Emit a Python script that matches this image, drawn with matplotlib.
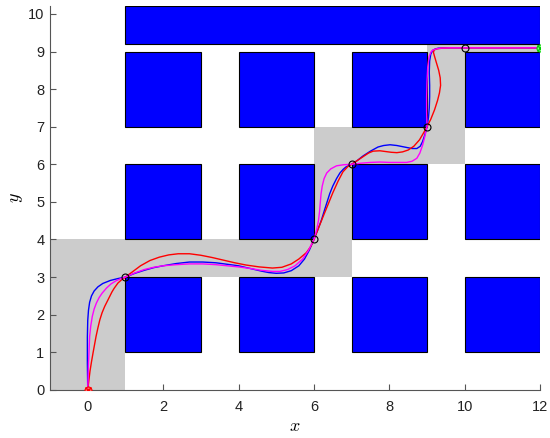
import matplotlib
matplotlib.use("Agg")
import matplotlib.pyplot as plt
from matplotlib.patches import Rectangle

plt.rcParams['font.family'] = ['Liberation Sans', 'DejaVu Sans']
plt.rcParams['mathtext.fontset'] = 'cm'

# obstacles (x0, y0, width, height)
obstacles = [(1, 1, 2, 2), (4, 1, 2, 2), (7, 1, 2, 2), (10, 1, 2, 2),
             (1, 4, 2, 2), (4, 4, 2, 2), (7, 4, 2, 2), (10, 4, 2, 2),
             (1, 7, 2, 2), (4, 7, 2, 2), (7, 7, 2, 2), (10, 7, 2, 2),
             (1, 9.2, 11, 1.0)]

# safe corridors (x0, y0, width, height)
corridors = [(-1, 0, 2, 4), (-1, 3, 8, 1), (6, 3, 1, 4),
             (6, 6, 4, 1), (9, 6, 1, 3.2), (9, 9, 3, 0.2)]

waypoints_x = [1, 6, 7, 9, 10]
waypoints_y = [3, 4, 6, 7, 9.1]
start = (0, 0)
goal = (12, 9.1)

blue_x = [0, -0.01, -0.01, 0.0, 0.02, 0.05, 0.1, 0.17, 0.27, 0.4, 0.6, 0.8, 1,
          1.25, 1.5, 1.75, 2.0, 2.35, 2.7, 3.05, 3.4, 3.7, 4.0, 4.3, 4.6, 4.8, 5.0,
          5.2, 5.4, 5.6, 5.75, 5.88, 6,
          6.1, 6.2, 6.28, 6.35, 6.42, 6.5, 6.6, 6.69, 6.78, 6.85, 6.93, 7,
          7.15, 7.3, 7.5, 7.7, 7.85, 8.02, 8.2, 8.4, 8.6, 8.73, 8.82, 8.88, 8.94, 9,
          9.04, 9.06, 9.07, 9.07, 9.06, 9.07, 9.1, 9.15, 9.22, 9.3, 9.5, 10, 12]
blue_y = [0, 0.7, 1.4, 1.85, 2.12, 2.33, 2.5, 2.63, 2.74, 2.83, 2.91, 2.96, 3,
          3.1, 3.18, 3.25, 3.3, 3.36, 3.4, 3.4, 3.38, 3.34, 3.3, 3.23, 3.16, 3.12, 3.1,
          3.11, 3.17, 3.3, 3.48, 3.72, 4,
          4.25, 4.52, 4.78, 5.0, 5.22, 5.42, 5.62, 5.77, 5.87, 5.93, 5.97, 6,
          6.1, 6.22, 6.35, 6.46, 6.5, 6.52, 6.5, 6.46, 6.42, 6.42, 6.48, 6.6, 6.78, 7,
          7.25, 7.5, 7.8, 8.1, 8.45, 8.75, 8.93, 9.03, 9.07, 9.09, 9.1, 9.1, 9.1]

red_x = [0, 0.03, 0.06, 0.1, 0.14, 0.18, 0.22, 0.27, 0.32, 0.38, 0.45, 0.52, 0.58, 0.64, 0.7, 0.8, 0.9, 1,
         1.2, 1.4, 1.65, 1.9, 2.15, 2.4, 2.7, 3.0, 3.3, 3.6, 3.9, 4.2, 4.55, 4.9,
         5.15, 5.4, 5.6, 5.8, 5.92, 6,
         6.12, 6.24, 6.37, 6.5, 6.64, 6.77, 6.9, 7,
         7.15, 7.3, 7.45, 7.57, 7.75, 7.9, 8.05, 8.2, 8.35, 8.5, 8.65, 8.8, 8.9, 9,
         9.1, 9.2, 9.28, 9.33, 9.36, 9.35, 9.31, 9.25, 9.2, 9.17, 9.19, 9.25, 9.4, 9.6, 10, 12]
red_y = [0, 0.25, 0.5, 0.75, 0.98, 1.2, 1.42, 1.65, 1.86, 2.05, 2.22, 2.36, 2.48, 2.6, 2.7, 2.84, 2.93, 3,
         3.15, 3.3, 3.44, 3.53, 3.59, 3.62, 3.62, 3.58, 3.52, 3.45, 3.38, 3.32, 3.27, 3.24,
         3.26, 3.35, 3.48, 3.65, 3.82, 4,
         4.3, 4.6, 4.92, 5.24, 5.55, 5.8, 5.94, 6,
         6.1, 6.2, 6.3, 6.35, 6.36, 6.34, 6.32, 6.31, 6.33, 6.38, 6.48, 6.65, 6.82, 7,
         7.2, 7.45, 7.7, 7.9, 8.1, 8.3, 8.5, 8.7, 8.87, 8.98, 9.04, 9.07, 9.09, 9.1, 9.1, 9.1]

magenta_x = [0, 0.01, 0.02, 0.035, 0.05, 0.08, 0.12, 0.17, 0.23, 0.3, 0.38, 0.5, 0.62, 0.75, 0.88, 1,
             1.25, 1.5, 1.75, 2.0, 2.35, 2.7, 3.05, 3.4, 3.7, 4.0, 4.3, 4.6, 4.9,
             5.1, 5.3, 5.5, 5.7, 5.85, 6,
             6.07, 6.12, 6.15, 6.17, 6.19, 6.22, 6.27, 6.34, 6.45, 6.6, 6.8, 7,
             7.25, 7.5, 7.75, 8.0, 8.25, 8.46, 8.6, 8.73, 8.81, 8.88, 8.94, 9,
             8.99, 8.99, 9.0, 9.02, 9.05, 9.1, 9.15, 9.25, 9.35, 9.6, 10, 12]
magenta_y = [0, 0.35, 0.7, 1.05, 1.42, 1.7, 1.95, 2.15, 2.31, 2.45, 2.57, 2.71, 2.82, 2.9, 2.96, 3,
             3.11, 3.2, 3.26, 3.3, 3.33, 3.35, 3.35, 3.33, 3.3, 3.27, 3.23, 3.18, 3.15,
             3.15, 3.2, 3.3, 3.48, 3.7, 4,
             4.25, 4.5, 4.75, 5.0, 5.22, 5.42, 5.62, 5.77, 5.88, 5.96, 5.99, 6,
             6.03, 6.05, 6.06, 6.05, 6.05, 6.05, 6.08, 6.16, 6.3, 6.5, 6.73, 7,
             7.4, 7.8, 8.2, 8.6, 8.85, 8.98, 9.04, 9.07, 9.09, 9.1, 9.1, 9.1]

fig = plt.figure(figsize=(5.5, 4.38), dpi=100)
ax = fig.add_axes([0.091, 0.11, 0.891, 0.877])

for (x0, y0, w, h) in corridors:
    ax.add_patch(Rectangle((x0, y0), w, h, facecolor=(0.8, 0.8, 0.8),
                           edgecolor='none', zorder=1))
for (x0, y0, w, h) in obstacles:
    ax.add_patch(Rectangle((x0, y0), w, h, facecolor=(0, 0, 1),
                           edgecolor='black', linewidth=0.8, zorder=2))

ax.plot(blue_x, blue_y, color=(0, 0, 1), lw=1.0, zorder=3)
ax.plot(red_x, red_y, color=(1, 0, 0), lw=1.0, zorder=3)
ax.plot(magenta_x, magenta_y, color=(1, 0, 1), lw=1.0, zorder=3)

ax.plot(waypoints_x, waypoints_y, 'o', mfc='none', mec='black', ms=5, mew=0.8, zorder=4)
ax.plot(*start, 'o', mfc=(1, 0.4, 0.4), mec='red', ms=5, mew=0.8, zorder=4)
ax.plot(*start, 'x', color='red', ms=5, mew=1.0, zorder=5)
ax.plot(*goal, 'o', mfc=(0.5, 1, 0.5), mec=(0, 0.8, 0), ms=5, mew=0.8, zorder=4)
ax.plot(*goal, 'x', color=(0, 0.8, 0), ms=5, mew=1.0, zorder=5)

ax.set_xlim(-1, 12)
ax.set_ylim(0, 10.22)
ax.set_xticks(range(0, 13, 2))
ax.set_yticks(range(0, 11))
ax.spines['top'].set_visible(False)
ax.spines['right'].set_visible(False)
for s in ('left', 'bottom'):
    ax.spines[s].set_color('#555555')
    ax.spines[s].set_linewidth(0.8)
ax.tick_params(direction='in', length=4, width=0.8, color='#555555',
               labelsize=10.5, labelcolor='#222222')
ax.tick_params(axis='x', pad=7)
ax.tick_params(axis='y', pad=4)
ax.set_xlabel('$x$', fontsize=13, labelpad=3)
ax.set_ylabel('$y$', fontsize=13, labelpad=2)

fig.savefig('out.png', dpi=100)
